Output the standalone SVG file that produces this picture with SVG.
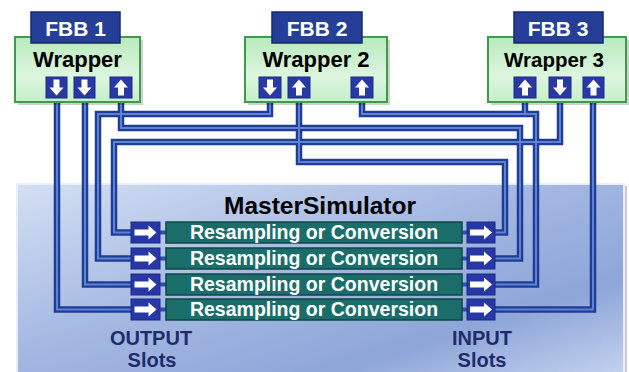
<svg xmlns="http://www.w3.org/2000/svg" xmlns:xlink="http://www.w3.org/1999/xlink" width="629" height="372" viewBox="0 0 629 372">
<defs>
<linearGradient id="msg" x1="0" y1="0" x2="1" y2="1">
<stop offset="0" stop-color="#d3dff3"/>
<stop offset="0.45" stop-color="#a3b7e1"/>
<stop offset="0.75" stop-color="#8ea6d8"/>
<stop offset="1" stop-color="#c4d3ef"/>
</linearGradient>
<linearGradient id="wg" x1="0" y1="0" x2="0" y2="1">
<stop offset="0" stop-color="#b9eabd"/>
<stop offset="0.6" stop-color="#dcf6de"/>
<stop offset="1" stop-color="#c6efc9"/>
</linearGradient>
<polygon id="adown" points="-3,-8 3,-8 3,0 7,0 0,8 -7,0 -3,0" fill="#fff"/>
<polygon id="aup" points="-3,8 3,8 3,0 7,0 0,-8 -7,0 -3,0" fill="#fff"/>
<polygon id="aright" points="-11,-3 3,-3 3,-7 11,0 3,7 3,3 -11,3" fill="#fff"/>
</defs>
<style>
.tube{fill:none;stroke:#1f3d97;stroke-width:6.5;stroke-linejoin:miter}
.hi{fill:none;stroke:#5d83d2;stroke-width:2;stroke-linejoin:miter}
.port{fill:#2838a4;stroke:#1c2a85;stroke-width:1}
.lab{fill:#253f98;stroke:#16286e;stroke-width:1.5}
.wrap{fill:url(#wg);stroke:#3f9a4c;stroke-width:2}
.shadow{fill:#000;opacity:0.18}
.bar{fill:#1b6d69;stroke:#0e4845;stroke-width:1.5}
.slot{fill:#2737a6;stroke:#1b2a86;stroke-width:1}
.link{stroke:#2e4fb0;stroke-width:4}
.t{font-family:"Liberation Sans",Arial,sans-serif;font-weight:bold;text-anchor:middle}
</style>

<g id="MasterSimulator">
<rect x="19" y="186" width="608" height="192" fill="#000" opacity="0.2"/>
<rect x="17" y="184" width="607" height="192" fill="url(#msg)" stroke="#e9eff9" stroke-width="2"/>
<text class="t" x="320" y="214" font-size="24.5" fill="#000">MasterSimulator</text>
<text class="t" x="151" y="345" font-size="20" fill="#1f2c6c">OUTPUT</text>
<text class="t" x="152" y="367" font-size="20" fill="#1f2c6c">Slots</text>
<text class="t" x="482" y="345" font-size="20" fill="#1f2c6c">INPUT</text>
<text class="t" x="482" y="367" font-size="20" fill="#1f2c6c">Slots</text>
</g>

<g id="connectors">
<g class="tube">
<path id="c1" d="M57,92 V309.5 H131"/>
<path id="c2" d="M85,92 V284.5 H131"/>
<path id="c3" d="M270,92 V114 H98 V258.5 H131"/>
<path id="c4" d="M560,92 V142 H114 V232.5 H131"/>
<path id="c5" d="M495,232.5 H505 V162 H299 V92"/>
<path id="c6" d="M495,258.5 H520 V128 H121 V92"/>
<path id="c7" d="M495,284.5 H536 V114 H362 V92"/>
<path id="c7b" d="M525,114 V92"/>
<path id="c8" d="M495,309.5 H593 V92"/>
</g>
<g class="hi">
<use xlink:href="#c1"/><use xlink:href="#c2"/><use xlink:href="#c3"/><use xlink:href="#c4"/>
<use xlink:href="#c5"/><use xlink:href="#c6"/><use xlink:href="#c7"/><use xlink:href="#c7b"/><use xlink:href="#c8"/>
</g>
<g class="link">
<line x1="160" y1="232.5" x2="166" y2="232.5"/><line x1="160" y1="258.5" x2="166" y2="258.5"/>
<line x1="160" y1="284.5" x2="166" y2="284.5"/><line x1="160" y1="309.5" x2="166" y2="309.5"/>
<line x1="462" y1="232.5" x2="467" y2="232.5"/><line x1="462" y1="258.5" x2="467" y2="258.5"/>
<line x1="462" y1="284.5" x2="467" y2="284.5"/><line x1="462" y1="309.5" x2="467" y2="309.5"/>
</g>
</g>

<g id="FBB1">
<rect class="shadow" x="18" y="40" width="125" height="65"/>
<rect class="wrap" x="15" y="37" width="125" height="65"/>
<rect class="lab" x="31" y="12" width="89" height="31"/>
<text class="t" x="75.5" y="36" font-size="21" fill="#fff">FBB 1</text>
<text class="t" x="77.5" y="67" font-size="22" fill="#000">Wrapper</text>
<rect class="port" x="46" y="77" width="21" height="21"/><use xlink:href="#adown" x="56.5" y="87.5"/>
<rect class="port" x="74" y="77" width="21" height="21"/><use xlink:href="#adown" x="84.5" y="87.5"/>
<rect class="port" x="110" y="77" width="22" height="21"/><use xlink:href="#aup" x="121" y="87.5"/>
</g>

<g id="FBB2">
<rect class="shadow" x="248" y="40" width="142" height="65"/>
<rect class="wrap" x="245" y="37" width="142" height="65"/>
<rect class="lab" x="272" y="12" width="90" height="31"/>
<text class="t" x="317" y="36" font-size="21" fill="#fff">FBB 2</text>
<text class="t" x="316" y="67" font-size="22" fill="#000">Wrapper 2</text>
<rect class="port" x="259" y="77" width="22" height="21"/><use xlink:href="#adown" x="270" y="87.5"/>
<rect class="port" x="288" y="77" width="22" height="21"/><use xlink:href="#aup" x="299" y="87.5"/>
<rect class="port" x="351" y="77" width="22" height="21"/><use xlink:href="#aup" x="362" y="87.5"/>
</g>

<g id="FBB3">
<rect class="shadow" x="491" y="40" width="138" height="65"/>
<rect class="wrap" x="488" y="37" width="138" height="65"/>
<rect class="lab" x="514" y="12" width="89" height="31"/>
<text class="t" x="558" y="36" font-size="21" fill="#fff">FBB 3</text>
<text class="t" x="554" y="67" font-size="20.5" fill="#000">Wrapper 3</text>
<rect class="port" x="514" y="77" width="22" height="21"/><use xlink:href="#aup" x="525" y="87.5"/>
<rect class="port" x="549" y="77" width="22" height="21"/><use xlink:href="#adown" x="560" y="87.5"/>
<rect class="port" x="583" y="77" width="21" height="21"/><use xlink:href="#aup" x="593.5" y="87.5"/>
</g>

<g id="row1">
<rect class="slot" x="131" y="222" width="29" height="21"/><use xlink:href="#aright" x="145.5" y="232.5"/>
<rect class="bar" x="166" y="222" width="296" height="21"/>
<text class="t" x="314" y="239" font-size="19.5" fill="#fff">Resampling or Conversion</text>
<rect class="slot" x="467" y="222" width="28" height="21"/><use xlink:href="#aright" x="481" y="232.5"/>
</g>
<g id="row2">
<rect class="slot" x="131" y="248" width="29" height="21"/><use xlink:href="#aright" x="145.5" y="258.5"/>
<rect class="bar" x="166" y="248" width="296" height="21"/>
<text class="t" x="314" y="265" font-size="19.5" fill="#fff">Resampling or Conversion</text>
<rect class="slot" x="467" y="248" width="28" height="21"/><use xlink:href="#aright" x="481" y="258.5"/>
</g>
<g id="row3">
<rect class="slot" x="131" y="274" width="29" height="21"/><use xlink:href="#aright" x="145.5" y="284.5"/>
<rect class="bar" x="166" y="274" width="296" height="21"/>
<text class="t" x="314" y="291" font-size="19.5" fill="#fff">Resampling or Conversion</text>
<rect class="slot" x="467" y="274" width="28" height="21"/><use xlink:href="#aright" x="481" y="284.5"/>
</g>
<g id="row4">
<rect class="slot" x="131" y="299" width="29" height="21"/><use xlink:href="#aright" x="145.5" y="309.5"/>
<rect class="bar" x="166" y="299" width="296" height="21"/>
<text class="t" x="314" y="316" font-size="19.5" fill="#fff">Resampling or Conversion</text>
<rect class="slot" x="467" y="299" width="28" height="21"/><use xlink:href="#aright" x="481" y="309.5"/>
</g>
</svg>
